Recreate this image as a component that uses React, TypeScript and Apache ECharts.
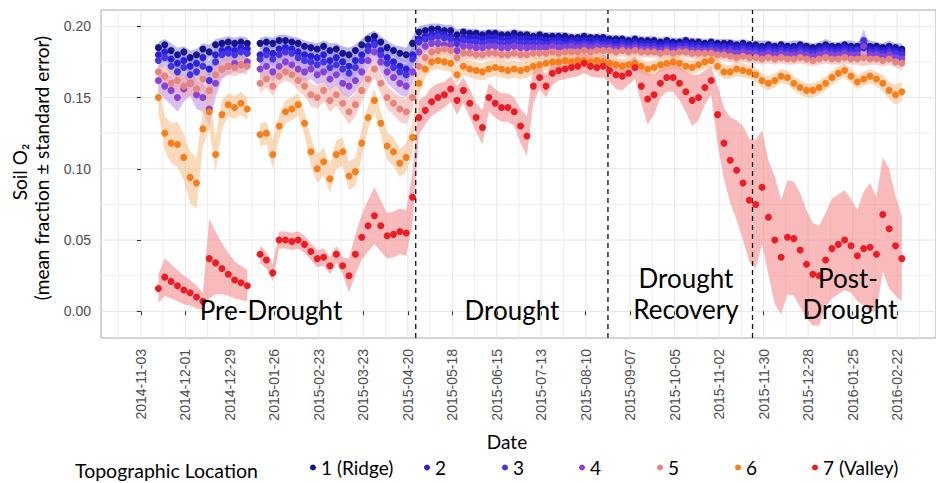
import React, { useEffect, useRef } from 'react';
import * as echarts from 'echarts';

// ---------- sampling grid (every 4 days from 2014-11-14) ----------
const START_DATE = '2014-11-14';
const STEP_DAYS = 4;
const N_SAMPLES = 118;

const seriesNames = ['1 (Ridge)', '2', '3', '4', '5', '6', '7 (Valley)'];

const xTickLabels = [
  '2014-11-03', '2014-12-01', '2014-12-29', '2015-01-26', '2015-02-23', '2015-03-23',
  '2015-04-20', '2015-05-18', '2015-06-15', '2015-07-13', '2015-08-10', '2015-09-07',
  '2015-10-05', '2015-11-02', '2015-11-30', '2015-12-28', '2016-01-25', '2016-02-22',
];
const yTickValues = [0, 0.05, 0.1, 0.15, 0.2];
const yMinorValues = [0.025, 0.075, 0.125, 0.175];
const phaseBoundaries = ['2015-04-25', '2015-08-24', '2015-11-23'];

// ---------- mean soil O2 (fraction) ----------
const o2Loc1 = [
  0.185, 0.187, 0.183, 0.180, 0.182, 0.178, 0.180, 0.184, 0.182, 0.187,
  0.188, 0.189, 0.188, 0.189, 0.188, null, 0.188, 0.189, 0.188, 0.190,
  0.190, 0.189, 0.188, 0.186, 0.185, 0.184, 0.186, 0.183, 0.184, 0.181,
  0.180, 0.183, 0.187, 0.191, 0.193, 0.189, 0.185, 0.183, 0.181, 0.180,
  0.188, 0.196, 0.197, 0.198, 0.198, 0.197, 0.197, 0.194, 0.196, 0.195,
  0.195, 0.194, 0.195, 0.195, 0.194, 0.194, 0.195, 0.194, 0.194, 0.193,
  0.194, 0.193, 0.193, 0.193, 0.193, 0.192, 0.192, 0.193, 0.192, 0.192,
  0.192, 0.191, 0.191, 0.191, 0.190, 0.191, 0.190, 0.190, 0.190, 0.189,
  0.190, 0.189, 0.189, 0.190, 0.189, 0.189, 0.188, 0.189, 0.188, 0.188,
  0.188, 0.187, 0.188, 0.187, 0.187, 0.186, 0.187, 0.186, 0.187, 0.186,
  0.186, 0.187, 0.186, 0.185, 0.186, 0.187, 0.186, 0.186, 0.187, 0.186,
  0.186, 0.187, 0.186, 0.186, 0.185, 0.186, 0.185, 0.184,
];
const o2Loc2 = [
  0.180, 0.182, 0.177, 0.174, 0.176, 0.172, 0.174, 0.178, 0.170, 0.180,
  0.183, 0.184, 0.183, 0.185, 0.184, null, 0.180, 0.183, 0.181, 0.184,
  0.185, 0.184, 0.182, 0.180, 0.179, 0.178, 0.180, 0.176, 0.178, 0.175,
  0.172, 0.176, 0.180, 0.186, 0.189, 0.183, 0.178, 0.175, 0.172, 0.170,
  0.180, 0.191, 0.193, 0.194, 0.195, 0.194, 0.193, 0.190, 0.192, 0.192,
  0.192, 0.191, 0.192, 0.192, 0.191, 0.191, 0.192, 0.191, 0.191, 0.191,
  0.191, 0.190, 0.190, 0.191, 0.190, 0.190, 0.190, 0.190, 0.190, 0.190,
  0.190, 0.189, 0.189, 0.189, 0.188, 0.189, 0.188, 0.188, 0.188, 0.187,
  0.188, 0.187, 0.187, 0.188, 0.187, 0.187, 0.186, 0.187, 0.186, 0.186,
  0.186, 0.185, 0.186, 0.185, 0.185, 0.184, 0.185, 0.184, 0.185, 0.184,
  0.184, 0.185, 0.184, 0.183, 0.184, 0.185, 0.184, 0.184, 0.185, 0.184,
  0.184, 0.185, 0.184, 0.184, 0.183, 0.184, 0.183, 0.182,
];
const o2Loc3 = [
  0.176, 0.178, 0.172, 0.168, 0.171, 0.166, 0.168, 0.172, 0.162, 0.175,
  0.180, 0.181, 0.180, 0.182, 0.181, null, 0.177, 0.180, 0.177, 0.180,
  0.182, 0.181, 0.178, 0.176, 0.175, 0.173, 0.175, 0.171, 0.173, 0.170,
  0.167, 0.171, 0.176, 0.183, 0.187, 0.180, 0.174, 0.171, 0.168, 0.166,
  0.177, 0.189, 0.191, 0.192, 0.193, 0.192, 0.191, 0.188, 0.190, 0.189,
  0.189, 0.188, 0.189, 0.189, 0.188, 0.188, 0.189, 0.188, 0.188, 0.188,
  0.188, 0.187, 0.188, 0.188, 0.187, 0.188, 0.187, 0.188, 0.187, 0.188,
  0.187, 0.187, 0.186, 0.187, 0.186, 0.187, 0.186, 0.186, 0.186, 0.185,
  0.186, 0.185, 0.186, 0.186, 0.185, 0.185, 0.184, 0.185, 0.184, 0.184,
  0.184, 0.183, 0.184, 0.183, 0.183, 0.182, 0.183, 0.182, 0.183, 0.182,
  0.182, 0.183, 0.182, 0.181, 0.182, 0.183, 0.182, 0.182, 0.183, 0.182,
  0.183, 0.190, 0.182, 0.182, 0.181, 0.182, 0.181, 0.180,
];
const o2Loc4 = [
  0.162, 0.158, 0.155, 0.150, 0.156, 0.160, 0.152, 0.150, 0.142, 0.160,
  0.170, 0.172, 0.174, 0.173, 0.175, null, 0.170, 0.172, 0.168, 0.172,
  0.175, 0.173, 0.170, 0.168, 0.170, 0.166, 0.168, 0.163, 0.166, 0.160,
  0.158, 0.162, 0.168, 0.176, 0.182, 0.175, 0.168, 0.164, 0.160, 0.158,
  0.168, 0.182, 0.186, 0.188, 0.188, 0.187, 0.187, 0.183, 0.186, 0.186,
  0.185, 0.185, 0.186, 0.186, 0.185, 0.185, 0.186, 0.185, 0.185, 0.185,
  0.185, 0.185, 0.186, 0.185, 0.185, 0.186, 0.185, 0.186, 0.185, 0.186,
  0.185, 0.185, 0.184, 0.185, 0.184, 0.185, 0.184, 0.184, 0.184, 0.183,
  0.184, 0.183, 0.184, 0.184, 0.183, 0.183, 0.183, 0.183, 0.182, 0.182,
  0.182, 0.181, 0.182, 0.181, 0.181, 0.180, 0.181, 0.180, 0.181, 0.180,
  0.180, 0.181, 0.180, 0.179, 0.180, 0.181, 0.180, 0.180, 0.181, 0.180,
  0.180, 0.186, 0.180, 0.180, 0.179, 0.180, 0.178, 0.177,
];
const o2Loc5 = [
  0.168, 0.165, 0.160, 0.162, 0.158, 0.160, 0.156, 0.163, 0.155, 0.166,
  0.170, 0.172, 0.171, 0.173, 0.172, null, 0.160, 0.163, 0.158, 0.165,
  0.168, 0.166, 0.162, 0.158, 0.152, 0.150, 0.155, 0.148, 0.152, 0.146,
  0.140, 0.145, 0.155, 0.163, 0.170, 0.160, 0.150, 0.146, 0.142, 0.140,
  0.150, 0.172, 0.178, 0.182, 0.183, 0.184, 0.183, 0.178, 0.181, 0.181,
  0.180, 0.180, 0.181, 0.181, 0.180, 0.180, 0.181, 0.180, 0.180, 0.181,
  0.181, 0.181, 0.182, 0.181, 0.182, 0.182, 0.182, 0.183, 0.182, 0.183,
  0.183, 0.183, 0.182, 0.183, 0.182, 0.183, 0.182, 0.182, 0.182, 0.181,
  0.182, 0.181, 0.182, 0.182, 0.181, 0.181, 0.181, 0.181, 0.180, 0.180,
  0.179, 0.178, 0.179, 0.178, 0.178, 0.177, 0.178, 0.177, 0.178, 0.177,
  0.177, 0.178, 0.177, 0.176, 0.177, 0.178, 0.177, 0.177, 0.178, 0.177,
  0.177, 0.178, 0.177, 0.177, 0.176, 0.177, 0.175, 0.174,
];
const o2Loc6 = [
  0.150, 0.125, 0.118, 0.117, 0.108, 0.094, 0.090, 0.128, 0.140, 0.110,
  0.138, 0.145, 0.143, 0.146, 0.142, null, 0.124, 0.125, 0.110, 0.130,
  0.140, 0.142, 0.145, 0.132, 0.112, 0.100, 0.105, 0.093, 0.110, 0.112,
  0.095, 0.098, 0.118, 0.136, 0.148, 0.132, 0.116, 0.112, 0.104, 0.108,
  0.122, 0.160, 0.170, 0.175, 0.176, 0.175, 0.174, 0.166, 0.172, 0.170,
  0.169, 0.168, 0.170, 0.171, 0.170, 0.169, 0.170, 0.169, 0.170, 0.172,
  0.173, 0.174, 0.175, 0.175, 0.176, 0.175, 0.176, 0.176, 0.175, 0.176,
  0.175, 0.174, 0.173, 0.172, 0.173, 0.174, 0.172, 0.170, 0.171, 0.173,
  0.174, 0.175, 0.174, 0.172, 0.171, 0.173, 0.175, 0.176, 0.172, 0.168,
  0.168, 0.170, 0.169, 0.168, 0.166, 0.162, 0.160, 0.162, 0.165, 0.164,
  0.160, 0.157, 0.155, 0.155, 0.157, 0.160, 0.164, 0.167, 0.169, 0.165,
  0.161, 0.163, 0.165, 0.163, 0.160, 0.155, 0.152, 0.154,
];
const o2Loc7 = [
  0.016, 0.024, 0.021, 0.018, 0.015, 0.013, 0.010, 0.007, 0.037, 0.034,
  0.030, 0.026, 0.022, 0.020, 0.018, null, 0.040, 0.036, 0.027, 0.050,
  0.050, 0.049, 0.050, 0.047, 0.042, 0.037, 0.038, 0.032, 0.040, 0.032,
  0.025, 0.040, 0.052, 0.060, 0.067, 0.060, 0.053, 0.054, 0.056, 0.055,
  0.080, 0.136, 0.141, 0.147, 0.150, 0.152, 0.156, 0.148, 0.155, 0.146,
  0.136, 0.129, 0.150, 0.146, 0.143, 0.143, 0.140, 0.130, 0.123, 0.158,
  0.164, 0.158, 0.167, 0.169, 0.170, 0.171, 0.172, 0.174, 0.172, 0.171,
  0.172, 0.169, 0.166, 0.165, 0.167, 0.171, 0.158, 0.149, 0.152, 0.160,
  0.164, 0.164, 0.160, 0.154, 0.148, 0.150, 0.157, 0.162, 0.138, 0.118,
  0.106, 0.099, 0.090, 0.078, 0.075, 0.087, 0.066, 0.050, 0.038, 0.052,
  0.051, 0.043, 0.033, 0.026, 0.025, 0.036, 0.044, 0.047, 0.050, 0.046,
  0.039, 0.044, 0.045, 0.040, 0.068, 0.058, 0.046, 0.037,
];

// ---------- standard errors ----------
const seLoc1 = [
  0.004, 0.004, 0.005, 0.005, 0.004, 0.005, 0.004, 0.004, 0.005, 0.004,
  0.004, 0.004, 0.004, 0.004, 0.004, null, 0.004, 0.004, 0.004, 0.004,
  0.004, 0.004, 0.004, 0.004, 0.004, 0.004, 0.004, 0.005, 0.004, 0.005,
  0.005, 0.004, 0.004, 0.004, 0.004, 0.004, 0.005, 0.004, 0.005, 0.005,
  0.005, 0.004, 0.004, 0.004, 0.004, 0.004, 0.004, 0.004, 0.003, 0.003,
  0.003, 0.003, 0.003, 0.003, 0.003, 0.003, 0.003, 0.003, 0.003, 0.003,
  0.003, 0.003, 0.003, 0.003, 0.003, 0.003, 0.003, 0.003, 0.003, 0.003,
  0.003, 0.003, 0.003, 0.003, 0.003, 0.003, 0.003, 0.003, 0.003, 0.003,
  0.003, 0.003, 0.003, 0.003, 0.003, 0.003, 0.003, 0.003, 0.003, 0.003,
  0.003, 0.003, 0.003, 0.003, 0.003, 0.004, 0.003, 0.003, 0.003, 0.003,
  0.004, 0.003, 0.003, 0.003, 0.003, 0.004, 0.003, 0.003, 0.003, 0.004,
  0.003, 0.005, 0.004, 0.003, 0.003, 0.004, 0.003, 0.004,
];
const seLoc2 = [
  0.005, 0.005, 0.005, 0.006, 0.005, 0.006, 0.005, 0.005, 0.006, 0.005,
  0.004, 0.004, 0.004, 0.004, 0.004, null, 0.005, 0.004, 0.005, 0.004,
  0.004, 0.004, 0.004, 0.005, 0.005, 0.005, 0.005, 0.005, 0.005, 0.005,
  0.006, 0.005, 0.005, 0.004, 0.004, 0.005, 0.005, 0.005, 0.006, 0.006,
  0.006, 0.004, 0.004, 0.004, 0.004, 0.004, 0.004, 0.004, 0.004, 0.003,
  0.003, 0.003, 0.003, 0.003, 0.003, 0.003, 0.003, 0.003, 0.003, 0.003,
  0.003, 0.003, 0.003, 0.003, 0.003, 0.003, 0.003, 0.003, 0.003, 0.003,
  0.003, 0.003, 0.003, 0.003, 0.003, 0.003, 0.003, 0.003, 0.003, 0.003,
  0.003, 0.003, 0.003, 0.003, 0.003, 0.003, 0.003, 0.003, 0.003, 0.003,
  0.004, 0.003, 0.003, 0.004, 0.003, 0.004, 0.003, 0.004, 0.003, 0.004,
  0.004, 0.003, 0.004, 0.004, 0.003, 0.004, 0.004, 0.003, 0.004, 0.004,
  0.004, 0.006, 0.004, 0.004, 0.004, 0.004, 0.004, 0.004,
];
const seLoc3 = [
  0.006, 0.006, 0.006, 0.006, 0.006, 0.007, 0.006, 0.006, 0.007, 0.006,
  0.005, 0.005, 0.005, 0.005, 0.005, null, 0.005, 0.005, 0.005, 0.005,
  0.005, 0.005, 0.005, 0.005, 0.006, 0.006, 0.006, 0.006, 0.006, 0.006,
  0.007, 0.006, 0.006, 0.005, 0.005, 0.006, 0.006, 0.006, 0.007, 0.007,
  0.007, 0.005, 0.004, 0.004, 0.004, 0.004, 0.004, 0.004, 0.004, 0.004,
  0.004, 0.004, 0.004, 0.004, 0.004, 0.004, 0.004, 0.004, 0.004, 0.004,
  0.004, 0.004, 0.004, 0.004, 0.004, 0.004, 0.004, 0.004, 0.004, 0.004,
  0.004, 0.004, 0.004, 0.004, 0.004, 0.004, 0.004, 0.004, 0.004, 0.004,
  0.004, 0.004, 0.004, 0.004, 0.004, 0.004, 0.004, 0.004, 0.004, 0.004,
  0.004, 0.004, 0.004, 0.004, 0.004, 0.004, 0.004, 0.004, 0.004, 0.004,
  0.004, 0.004, 0.004, 0.004, 0.004, 0.004, 0.004, 0.004, 0.004, 0.004,
  0.004, 0.008, 0.004, 0.004, 0.004, 0.004, 0.004, 0.004,
];
const seLoc4 = [
  0.008, 0.009, 0.010, 0.010, 0.009, 0.009, 0.010, 0.010, 0.012, 0.010,
  0.007, 0.006, 0.006, 0.006, 0.006, null, 0.007, 0.006, 0.007, 0.006,
  0.006, 0.006, 0.006, 0.007, 0.007, 0.007, 0.007, 0.008, 0.007, 0.008,
  0.008, 0.008, 0.007, 0.006, 0.006, 0.007, 0.008, 0.008, 0.008, 0.008,
  0.008, 0.005, 0.004, 0.004, 0.004, 0.004, 0.004, 0.004, 0.004, 0.004,
  0.004, 0.004, 0.004, 0.004, 0.004, 0.004, 0.004, 0.004, 0.004, 0.004,
  0.004, 0.004, 0.004, 0.004, 0.004, 0.004, 0.004, 0.004, 0.004, 0.004,
  0.004, 0.004, 0.004, 0.004, 0.004, 0.004, 0.004, 0.004, 0.004, 0.004,
  0.004, 0.004, 0.004, 0.004, 0.004, 0.004, 0.004, 0.004, 0.004, 0.004,
  0.004, 0.004, 0.004, 0.004, 0.004, 0.004, 0.004, 0.004, 0.004, 0.004,
  0.004, 0.004, 0.004, 0.004, 0.004, 0.004, 0.004, 0.004, 0.004, 0.004,
  0.004, 0.008, 0.004, 0.004, 0.004, 0.004, 0.004, 0.005,
];
const seLoc5 = [
  0.007, 0.007, 0.008, 0.008, 0.008, 0.008, 0.008, 0.008, 0.009, 0.008,
  0.006, 0.006, 0.006, 0.006, 0.006, null, 0.007, 0.006, 0.007, 0.006,
  0.006, 0.006, 0.007, 0.007, 0.008, 0.008, 0.008, 0.008, 0.008, 0.008,
  0.009, 0.008, 0.008, 0.007, 0.006, 0.007, 0.008, 0.008, 0.009, 0.009,
  0.009, 0.006, 0.005, 0.004, 0.004, 0.004, 0.004, 0.005, 0.004, 0.004,
  0.004, 0.004, 0.004, 0.004, 0.004, 0.004, 0.004, 0.004, 0.004, 0.004,
  0.004, 0.004, 0.004, 0.004, 0.004, 0.004, 0.004, 0.004, 0.004, 0.004,
  0.004, 0.004, 0.004, 0.004, 0.004, 0.004, 0.004, 0.004, 0.004, 0.004,
  0.004, 0.004, 0.004, 0.004, 0.004, 0.004, 0.004, 0.004, 0.004, 0.004,
  0.004, 0.004, 0.004, 0.004, 0.004, 0.004, 0.004, 0.004, 0.004, 0.004,
  0.004, 0.004, 0.004, 0.004, 0.004, 0.004, 0.004, 0.004, 0.004, 0.004,
  0.004, 0.006, 0.004, 0.004, 0.004, 0.004, 0.004, 0.005,
];
const seLoc6 = [
  0.010, 0.012, 0.014, 0.016, 0.016, 0.018, 0.018, 0.012, 0.012, 0.012,
  0.010, 0.008, 0.008, 0.008, 0.008, null, 0.008, 0.008, 0.010, 0.008,
  0.008, 0.008, 0.008, 0.008, 0.010, 0.010, 0.010, 0.010, 0.010, 0.010,
  0.010, 0.010, 0.010, 0.008, 0.008, 0.008, 0.010, 0.010, 0.010, 0.010,
  0.010, 0.008, 0.006, 0.006, 0.006, 0.006, 0.006, 0.006, 0.006, 0.006,
  0.006, 0.006, 0.006, 0.006, 0.006, 0.006, 0.006, 0.006, 0.006, 0.006,
  0.005, 0.005, 0.005, 0.005, 0.005, 0.005, 0.005, 0.005, 0.005, 0.005,
  0.005, 0.005, 0.005, 0.005, 0.005, 0.005, 0.005, 0.005, 0.005, 0.005,
  0.005, 0.005, 0.005, 0.005, 0.005, 0.005, 0.005, 0.005, 0.005, 0.005,
  0.005, 0.005, 0.005, 0.005, 0.005, 0.005, 0.005, 0.005, 0.005, 0.005,
  0.005, 0.005, 0.005, 0.005, 0.005, 0.005, 0.005, 0.005, 0.005, 0.005,
  0.005, 0.005, 0.005, 0.005, 0.006, 0.006, 0.007, 0.007,
];
const seLoc7 = [
  0.010, 0.013, 0.012, 0.011, 0.010, 0.009, 0.008, 0.006, 0.028, 0.022,
  0.018, 0.015, 0.013, 0.012, 0.011, null, 0.006, 0.006, 0.006, 0.006,
  0.006, 0.006, 0.006, 0.006, 0.006, 0.006, 0.006, 0.006, 0.006, 0.006,
  0.012, 0.014, 0.016, 0.018, 0.020, 0.018, 0.016, 0.016, 0.016, 0.016,
  0.018, 0.012, 0.010, 0.010, 0.010, 0.009, 0.009, 0.010, 0.009, 0.010,
  0.010, 0.012, 0.010, 0.010, 0.010, 0.010, 0.010, 0.012, 0.014, 0.012,
  0.008, 0.008, 0.008, 0.007, 0.007, 0.007, 0.007, 0.007, 0.007, 0.007,
  0.008, 0.008, 0.010, 0.010, 0.008, 0.008, 0.012, 0.018, 0.014, 0.010,
  0.010, 0.010, 0.012, 0.014, 0.018, 0.016, 0.012, 0.010, 0.020, 0.025,
  0.030, 0.035, 0.040, 0.043, 0.045, 0.040, 0.040, 0.045, 0.040, 0.040,
  0.040, 0.040, 0.038, 0.036, 0.035, 0.033, 0.035, 0.035, 0.035, 0.033,
  0.032, 0.040, 0.045, 0.040, 0.040, 0.042, 0.035, 0.030,
];

const meanSeries = [o2Loc1, o2Loc2, o2Loc3, o2Loc4, o2Loc5, o2Loc6, o2Loc7];
const seSeries = [seLoc1, seLoc2, seLoc3, seLoc4, seLoc5, seLoc6, seLoc7];

// ---------- styles ----------
const pointColors = ['#16118c', '#2a1fd8', '#4433e4', '#8742d8', '#e5857d', '#f67f1c', '#ec1b24'];
const ribbonColors = ['#6a66c8', '#7a74ec', '#8c80f0', '#b98ae8', '#f2aaa2', '#f9bf8e', '#f48c8c'];
const ribbonOpacity = [0.45, 0.45, 0.45, 0.55, 0.55, 0.6, 0.6];
const legendLefts = [310, 424, 502, 579, 657, 735, 812];

const DAY0 = Date.UTC(2014, 10, 3);
const toDay = (s: string) => (Date.parse(s + 'T00:00:00Z') - DAY0) / 86400000;
const startDay = toDay(START_DATE);
const sampleDays: number[] = [];
for (let i = 0; i < N_SAMPLES; i++) sampleDays.push(startDay + STEP_DAYS * i);

const xTickDays = xTickLabels.map(toDay);
const xMinorDays = [-14, ...xTickDays.map((d) => d + 14)];

const X_MIN = -25.12;
const X_MAX = 500.5;
const Y_MIN = -0.0187;
const Y_MAX = 0.2114;

const TICK_FONT = '"Liberation Sans", Arial, sans-serif';
const TEXT_FONT = 'Lato, "Open Sans", sans-serif';

function segmentsOf(mean: (number | null)[]) {
  const segs: number[][] = [];
  let cur: number[] = [];
  mean.forEach((v, i) => {
    if (v == null) {
      if (cur.length) segs.push(cur);
      cur = [];
    } else cur.push(i);
  });
  if (cur.length) segs.push(cur);
  return segs;
}

function buildOption() {
  const series: any[] = [];

  // grid lines (vertical)
  const vLines = [
    ...xMinorDays.map((d) => [d, Y_MIN, 0]),
    ...xTickDays.map((d) => [d, Y_MIN, 1]),
  ];
  series.push({
    type: 'custom',
    name: 'vgrid',
    silent: true,
    z: 0,
    data: vLines,
    encode: { x: 0, y: 1 },
    renderItem: (_p: any, api: any) => {
      const d = api.value(0);
      const a = api.coord([d, Y_MIN]);
      const b = api.coord([d, Y_MAX]);
      const major = api.value(2) === 1;
      return {
        type: 'line',
        shape: { x1: a[0], y1: a[1], x2: b[0], y2: b[1] },
        style: { stroke: major ? '#e6e6e6' : '#efefef', lineWidth: 1 },
      };
    },
  });
  const hLines = [
    ...yMinorValues.map((v) => [X_MIN, v, 0]),
    ...yTickValues.map((v) => [X_MIN, v, 1]),
  ];
  series.push({
    type: 'custom',
    name: 'hgrid',
    silent: true,
    z: 0,
    data: hLines,
    encode: { x: 0, y: 1 },
    renderItem: (_p: any, api: any) => {
      const v = api.value(1);
      const a = api.coord([X_MIN, v]);
      const b = api.coord([X_MAX, v]);
      const major = api.value(2) === 1;
      return {
        type: 'line',
        shape: { x1: a[0], y1: a[1], x2: b[0], y2: b[1] },
        style: { stroke: major ? '#e6e6e6' : '#efefef', lineWidth: 1 },
      };
    },
  });

  // ribbons (mean ± SE)
  meanSeries.forEach((mean, k) => {
    const se = seSeries[k];
    const segs = segmentsOf(mean);
    series.push({
      type: 'custom',
      name: seriesNames[k] + ' SE',
      silent: true,
      z: 2,
      clip: true,
      data: segs.map((seg) => [sampleDays[seg[0]], Y_MIN, sampleDays[seg[seg.length - 1]], Y_MAX]),
      encode: { x: [0, 2], y: [1, 3] },
      renderItem: (params: any, api: any) => {
        const seg = segs[params.dataIndex];
        const upper = seg.map((i) => api.coord([sampleDays[i], (mean[i] as number) + (se[i] as number)]));
        const lower = seg
          .map((i) => api.coord([sampleDays[i], (mean[i] as number) - (se[i] as number)]))
          .reverse();
        return {
          type: 'polygon',
          shape: { points: upper.concat(lower) },
          style: { fill: ribbonColors[k], opacity: ribbonOpacity[k] },
        };
      },
    });
  });

  // phase boundaries
  series.push({
    type: 'custom',
    name: 'phases',
    silent: true,
    z: 3,
    data: phaseBoundaries.map((s) => [toDay(s), Y_MIN]),
    encode: { x: 0, y: 1 },
    renderItem: (_p: any, api: any) => {
      const d = api.value(0);
      const a = api.coord([d, Y_MIN]);
      const b = api.coord([d, Y_MAX]);
      return {
        type: 'line',
        shape: { x1: a[0], y1: a[1], x2: b[0], y2: b[1] },
        style: { stroke: '#111111', lineWidth: 1.3, lineDash: [5, 4] },
      };
    },
  });

  // points
  meanSeries.forEach((mean, k) => {
    series.push({
      type: 'scatter',
      name: seriesNames[k],
      z: 4,
      symbol: 'circle',
      symbolSize: 7,
      itemStyle: { color: pointColors[k], opacity: 1 },
      data: mean
        .map((v, i) => (v == null ? null : [sampleDays[i], v]))
        .filter((p) => p != null),
    });
  });

  const legends = seriesNames.map((name, k) => ({
    data: [{ name, icon: 'circle', itemStyle: { color: pointColors[k] } }],
    left: legendLefts[k],
    top: 458,
    itemWidth: 6,
    itemHeight: 6,
    itemGap: 0,
    padding: 0,
    selectedMode: false,
    textStyle: { fontFamily: TEXT_FONT, fontSize: 19, color: '#000000' },
  }));

  const annoStyle = { fontFamily: TEXT_FONT, fontSize: 26, fill: '#000000', align: 'center', verticalAlign: 'middle' };

  return {
    animation: false,
    backgroundColor: '#ffffff',
    grid: {
      left: 101,
      top: 10,
      right: -2,
      bottom: 145,
      show: true,
      borderColor: '#a8a8a8',
      borderWidth: 1,
      backgroundColor: 'transparent',
    },
    xAxis: {
      type: 'value',
      min: X_MIN,
      max: X_MAX,
      splitLine: { show: false },
      axisLine: { show: false },
      axisTick: { show: true, length: 4, lineStyle: { color: '#333333' }, customValues: xTickDays },
      axisLabel: {
        customValues: xTickDays,
        rotate: 90,
        margin: 11,
        fontFamily: TICK_FONT,
        fontSize: 14,
        color: '#4d4d4d',
        formatter: (v: number) => {
          const idx = xTickDays.findIndex((d) => Math.abs(d - v) < 0.01);
          return idx >= 0 ? xTickLabels[idx] : '';
        },
      },
    },
    yAxis: {
      type: 'value',
      min: Y_MIN,
      max: Y_MAX,
      splitLine: { show: false },
      axisLine: { show: false },
      axisTick: { show: true, length: 4, lineStyle: { color: '#333333' }, customValues: yTickValues },
      axisLabel: {
        customValues: yTickValues,
        margin: 10,
        fontFamily: TICK_FONT,
        fontSize: 14,
        color: '#4d4d4d',
        formatter: (v: number) => v.toFixed(2),
      },
    },
    legend: legends,
    graphic: [
      { type: 'text', z: 100, x: 271, y: 310, style: { ...annoStyle, text: 'Pre-Drought' } },
      { type: 'text', z: 100, x: 512, y: 310, style: { ...annoStyle, text: 'Drought' } },
      { type: 'text', z: 100, x: 686, y: 278, style: { ...annoStyle, text: 'Drought' } },
      { type: 'text', z: 100, x: 686, y: 309, style: { ...annoStyle, text: 'Recovery' } },
      { type: 'text', z: 100, x: 848, y: 278, style: { ...annoStyle, text: 'Post-' } },
      { type: 'text', z: 100, x: 850, y: 309, style: { ...annoStyle, text: 'Drought' } },
      {
        type: 'text', z: 100, x: 507, y: 441,
        style: { text: 'Date', fontFamily: TEXT_FONT, fontSize: 19, fill: '#000000', align: 'center', verticalAlign: 'middle' },
      },
      {
        type: 'text', z: 100, x: 75, y: 470,
        style: { text: 'Topographic Location', fontFamily: TEXT_FONT, fontSize: 19.5, fill: '#000000', align: 'left', verticalAlign: 'middle' },
      },
      {
        type: 'text', z: 100, x: 19, y: 172, rotation: Math.PI / 2,
        style: { text: 'Soil O₂', fontFamily: TEXT_FONT, fontSize: 19, fill: '#000000', align: 'center', verticalAlign: 'middle' },
      },
      {
        type: 'text', z: 100, x: 41, y: 168, rotation: Math.PI / 2,
        style: { text: '(mean fraction ± standard error)', fontFamily: TEXT_FONT, fontSize: 19, fill: '#000000', align: 'center', verticalAlign: 'middle' },
      },
    ],
    series,
  };
}

export default function App() {
  const ref = useRef<HTMLDivElement>(null);
  useEffect(() => {
    if (!ref.current) return;
    const chart = echarts.init(ref.current, undefined, { renderer: 'svg' });
    chart.setOption(buildOption() as any);
    return () => chart.dispose();
  }, []);
  return (
    <div
      ref={ref}
      style={{ position: 'absolute', left: 0, top: 0, width: 936, height: 483, background: '#ffffff' }}
    />
  );
}
